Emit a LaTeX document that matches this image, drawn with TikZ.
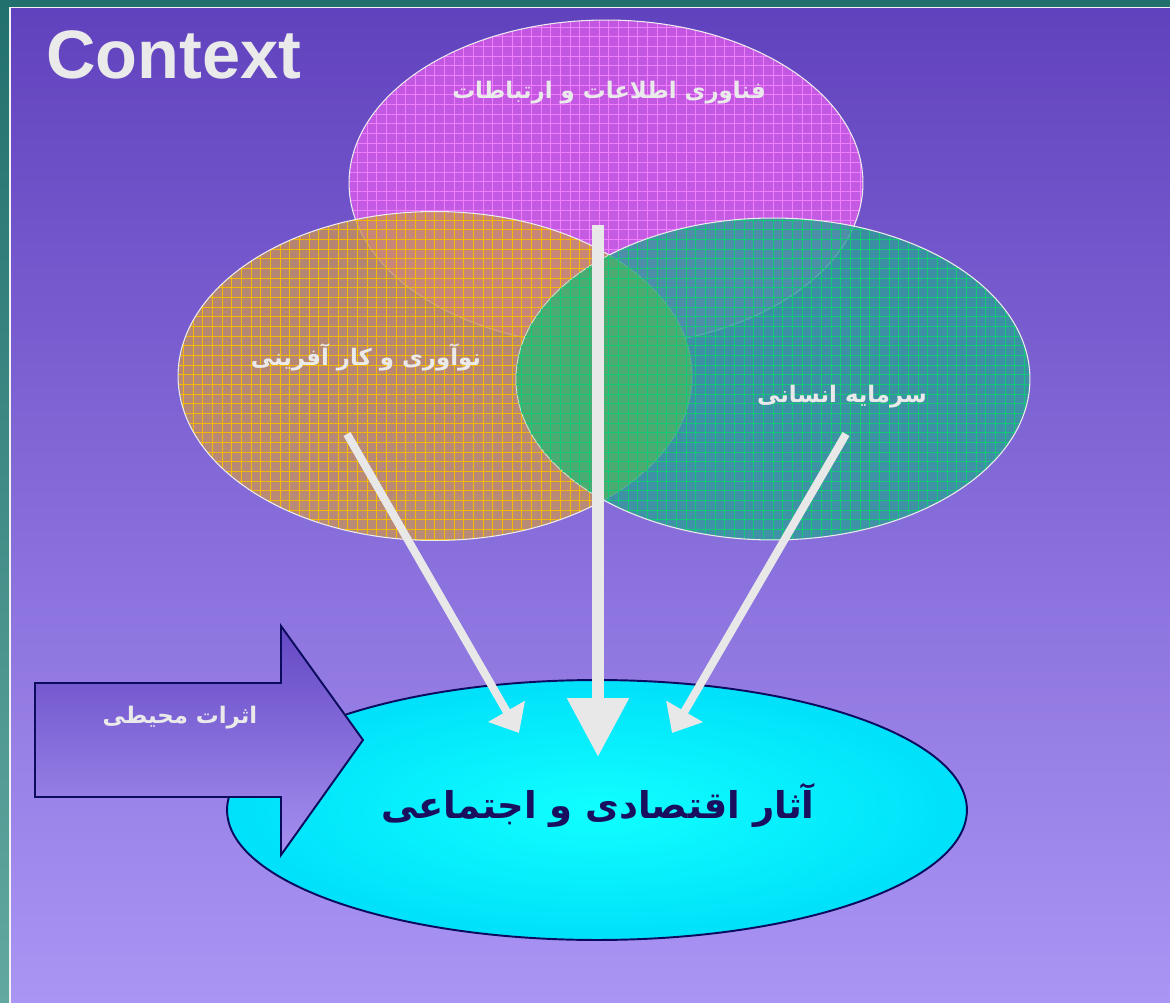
\documentclass[tikz,border=0pt]{standalone}
\usepackage{fontspec}
\setmainfont{Liberation Sans}
\newfontfamily\farsifont[Script=Arabic]{DejaVu Sans}
\TeXXeTstate=1
\usepackage{xcolor}
\usepackage{tikz}
\usetikzlibrary{shapes.geometric,arrows.meta,patterns.meta}

\definecolor{tealdark}{HTML}{22706E}
\definecolor{teallight}{HTML}{62A8A0}
\definecolor{bgtop}{HTML}{6142BE}
\definecolor{bgbottom}{HTML}{AA95F4}
\definecolor{ictfill}{HTML}{DD5CEB}
\definecolor{ictgrid}{HTML}{F080FF}
\definecolor{innovfill}{HTML}{C8935A}
\definecolor{innovgrid}{HTML}{F5BA00}
\definecolor{humanfill}{HTML}{2C9E98}
\definecolor{humangrid}{HTML}{10C878}
\definecolor{lensgreen}{HTML}{4CBC58}
\definecolor{cyancore}{HTML}{10FFFF}
\definecolor{cyanedge}{HTML}{00E0FA}
\definecolor{navyline}{HTML}{0C0C5E}
\definecolor{envtop}{HTML}{6448C4}
\definecolor{envbottom}{HTML}{A690F0}
\definecolor{textgray}{HTML}{EAEAEA}
\definecolor{arrowgray}{HTML}{E8E8E8}
\definecolor{impacttext}{HTML}{1A0F5E}

\begin{document}
\begin{tikzpicture}[x=0.02cm,y=-0.02cm,
	bubble/.style={ellipse,draw=white!85!gray,line width=0.6pt,inner sep=0pt,outer sep=0pt,minimum width=10.28cm,fill opacity=.35,pattern={Hatch[distance=5.5pt,line width=.5pt]}},
	farsi/.style={text=textgray,font=\farsifont\bfseries\fontsize{13}{15}\selectfont},
	thinarrow/.style={draw=arrowgray,line width=0.16cm,-{Triangle[length=0.5cm,width=0.82cm]}},
	thickarrow/.style={draw=arrowgray,line width=0.24cm,-{Triangle[length=1.18cm,width=1.18cm]}}]
						\useasboundingbox (0,0) rectangle (1170,1003);
						\shade[top color=tealdark,bottom color=teallight] (0,0) rectangle (1170,1003);
						\fill[white!90!gray] (9,7) rectangle (1170,1003);
						\shade[top color=bgtop,bottom color=bgbottom] (11,9) rectangle (1170,1003);
						
						\node[bubble,minimum height=6.52cm,pattern color=ictgrid,preaction={fill=ictfill,fill opacity=.78}] (ict) at (606,183) {};
						\node[bubble,minimum height=6.58cm,pattern color=innovgrid,preaction={fill=innovfill,fill opacity=.78}] (innov) at (435,376) {};
						\node[bubble,minimum height=6.44cm,pattern color=humangrid,preaction={fill=humanfill,fill opacity=.78}] (human) at (773,379) {};
						\begin{scope}
							\clip (innov.center) ellipse [x radius=5.14cm,y radius=3.29cm];
							\fill[lensgreen,fill opacity=.55,postaction={pattern={Hatch[distance=5.5pt,line width=.5pt]},pattern color=humangrid,fill opacity=.35}] (human.center) ellipse [x radius=5.14cm,y radius=3.22cm];
						\end{scope}
						
						\node[ellipse,draw=navyline,line width=1.1pt,inner sep=0pt,minimum width=14.8cm,minimum height=5.2cm,inner color=cyancore,outer color=cyanedge] (impact) at (597,810) {};
						
						\shadedraw[top color=envtop,bottom color=envbottom,draw=navyline,line width=1.1pt] (35,683) -- (281,683) -- (281,626) -- (363,740) -- (281,855) -- (281,797) -- (35,797) -- cycle;
						
						\coordinate (ictStart) at (598,225);
						\coordinate (ictTip) at (598,757);
						\coordinate (innovStart) at (347,434);
						\coordinate (innovTip) at (519,733);
						\coordinate (humanStart) at (846,434);
						\coordinate (humanTip) at (672,733);
						
						\draw[thickarrow] (ictStart) - - (ictTip);
						\draw[thinarrow] (innovStart) - - (innovTip);
						\draw[thinarrow] (humanStart) - - (humanTip);
						
						\node[anchor=base west,text=textgray,font=\fontsize{39}{44}\selectfont\bfseries] (title) at (40,79) {Context};
						\node[farsi] (ictText) at (609,93) {\beginR فناوری اطلاعات و ارتباطات\endR};
						\node[farsi] (innovText) at (366,357) {\beginR نوآوری و کار آفرینی\endR};
						\node[farsi] (humanText) at (842,397) {\beginR سرمایه انسانی\endR};
						\node[farsi] (envText) at (180,718) {\beginR اثرات محیطی\endR};
						\node[farsi,text=impacttext,font=\farsifont\bfseries\fontsize{21}{25}\selectfont] (impactText) at (598,805) {\beginR آثار اقتصادی و اجتماعی\endR};
					\end{tikzpicture}
\end{document}
